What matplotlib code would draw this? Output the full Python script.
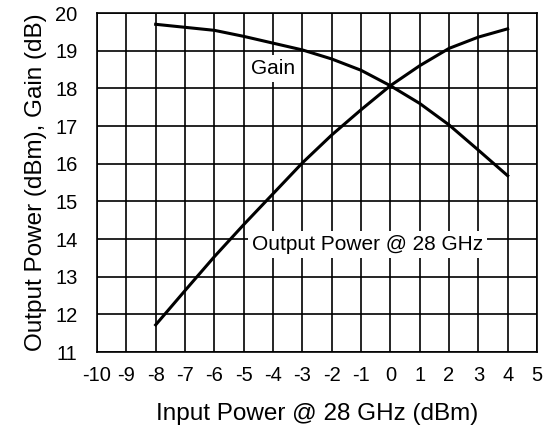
import matplotlib
matplotlib.use("Agg")
import matplotlib.pyplot as plt

# Data
input_power = [-8, -7, -6, -5, -4, -3, -2, -1, 0, 1, 2, 3, 4]
gain = [19.70, 19.62, 19.54, 19.38, 19.20, 19.02, 18.78, 18.48, 18.07, 17.60, 17.03, 16.36, 15.68]
output_power = [11.72, 12.63, 13.53, 14.38, 15.20, 16.02, 16.76, 17.43, 18.07, 18.60, 19.06, 19.36, 19.58]

x_ticks = list(range(-10, 6))
y_ticks = list(range(11, 21))

plt.rcParams["font.family"] = ["Liberation Sans", "DejaVu Sans"]
plt.rcParams["axes.unicode_minus"] = False

fig = plt.figure(figsize=(5.47, 4.30), dpi=100)
ax = fig.add_axes([97 / 547, 1 - 352 / 430, 440 / 547, 339 / 430])

ax.plot(input_power, gain, color="black", lw=2.2, zorder=3)
ax.plot(input_power, output_power, color="black", lw=2.2, zorder=3)

ax.set_xlim(-10, 5)
ax.set_ylim(11, 20)
ax.set_xticks(x_ticks)
ax.set_yticks(y_ticks)
ax.grid(True, color="black", lw=1.2)
ax.tick_params(length=0, labelsize=14.5)
ax.tick_params(axis="x", pad=10)
ax.tick_params(axis="y", pad=14)
for s in ax.spines.values():
    s.set_linewidth(1.2)

ax.text(-4.0, 18.52, "Gain", fontsize=15, ha="center", va="center", zorder=4,
        bbox=dict(facecolor="white", edgecolor="none", pad=3))
ax.text(-0.77, 13.86, "Output Power @ 28 GHz", fontsize=15, ha="center", va="center", zorder=4,
        bbox=dict(facecolor="white", edgecolor="none", pad=3))

ax.set_xlabel("Input Power @ 28 GHz (dBm)", fontsize=17.5, labelpad=13)
ax.set_ylabel("Output Power (dBm), Gain (dB)", fontsize=17.5, labelpad=6)

fig.savefig("out.png", dpi=100)
